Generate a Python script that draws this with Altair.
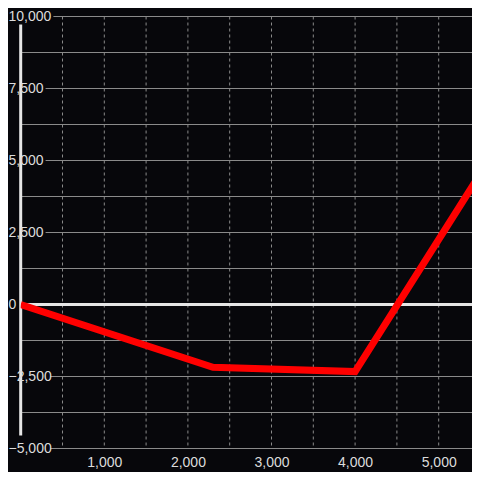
import altair as alt
import pandas as pd

# ---- data ----
x_vals = [0, 2300, 4000, 5500]
y_vals = [0, -2180, -2330, 4550]

y_label_ticks = [-5000, -2500, 0, 2500, 5000, 7500, 10000]
y_grid_vals = [-5000, -3750, -2500, -1250, 1250, 2500, 3750, 5000, 6250, 7500, 8750, 10000]
x_label_ticks = [1000, 2000, 3000, 4000, 5000]
x_grid_vals = [500, 1000, 1500, 2000, 2500, 3000, 3500, 4000, 4500, 5000]

Y_MIN, Y_MAX = -5000, 10000

# ---- layout (the page offers 464 x 464 inside its 8px margin) ----
TOTAL = 464
PAD_L, PAD_T = 12.7, 8.5
PX_PER_UNIT = 0.0836          # horizontal scale
W = TOTAL - PAD_L
H = 432
X_MAX = W / PX_PER_UNIT        # visible part of the x range
FONT = "Liberation Sans"
FS = 14
BG = "#07070b"
LABEL_COLOR = "#dcdcdc"


def label_width(s):
    w = 0
    for ch in s:
        if ch.isdigit():
            w += 7.8
        elif ch == ",":
            w += 3.9
        elif ch == "-":
            w += 4.7
    return w


def grid_start(v):
    if v in y_label_ticks:
        w = label_width(f"{v:,}")
        return max(0.0, (w - PAD_L + 2.5) / PX_PER_UNIT)
    return 0.0


hgrid = pd.DataFrame({
    "y": y_grid_vals,
    "x0": [grid_start(v) for v in y_grid_vals],
    "x1": [X_MAX] * len(y_grid_vals),
})
vgrid = pd.DataFrame({"x": x_grid_vals})
line_df = pd.DataFrame({"x": x_vals, "y": y_vals})

xscale = alt.Scale(domain=[0, X_MAX], nice=False, zero=False)
yscale = alt.Scale(domain=[Y_MIN, Y_MAX], nice=False, zero=False)

xaxis = alt.Axis(
    values=x_label_ticks, format=",.0f", title=None, grid=False, domain=False,
    ticks=False, tickSize=0, labelPadding=7, labelColor=LABEL_COLOR,
    labelFont=FONT, labelFontSize=FS, labelOverlap=False, labelFlush=False,
)
yaxis = alt.Axis(
    values=y_label_ticks, format=",.0f", title=None, grid=False, domain=False,
    ticks=False, tickSize=0, labelPadding=PAD_L, labelAlign="left",
    labelBaseline="middle", labelColor=LABEL_COLOR, labelFont=FONT,
    labelFontSize=FS, labelOverlap=False, labelFlush=False, zindex=1,
)

h_rules = alt.Chart(hgrid).mark_rule(color="#8a8a8a", strokeWidth=1).encode(
    x=alt.X("x0:Q", scale=xscale, axis=xaxis),
    x2="x1:Q",
    y=alt.Y("y:Q", scale=yscale, axis=yaxis),
)

v_rules = alt.Chart(vgrid).mark_rule(color="#8a8a8a", strokeWidth=1, strokeDash=[3, 3]).encode(
    x=alt.X("x:Q", scale=xscale, axis=xaxis),
)

zero_line = alt.Chart(pd.DataFrame({"y": [0]})).mark_rule(color="#e6e6e6", strokeWidth=3).encode(
    y=alt.Y("y:Q", scale=yscale, axis=yaxis),
)

yaxis_line = alt.Chart(pd.DataFrame({"x": [0], "y0": [9720], "y1": [-4550]})).mark_rule(
    color="#e6e6e6", strokeWidth=3
).encode(
    x=alt.X("x:Q", scale=xscale, axis=xaxis),
    y=alt.Y("y0:Q", scale=yscale, axis=yaxis),
    y2="y1:Q",
)

series = alt.Chart(line_df).mark_line(color="#ff0000", strokeWidth=7, clip=True).encode(
    x=alt.X("x:Q", scale=xscale, axis=xaxis),
    y=alt.Y("y:Q", scale=yscale, axis=yaxis),
    order=alt.Order("x:Q"),
)

chart = alt.layer(h_rules, v_rules, zero_line, yaxis_line, series).properties(
    width=W,
    height=H,
    background=BG,
    padding={"left": PAD_L, "top": PAD_T, "right": 0, "bottom": TOTAL - PAD_T - H},
    autosize=alt.AutoSizeParams(type="none"),
).configure_view(stroke=None)

chart.save("out.html", embed_options={"renderer": "svg", "actions": False})
